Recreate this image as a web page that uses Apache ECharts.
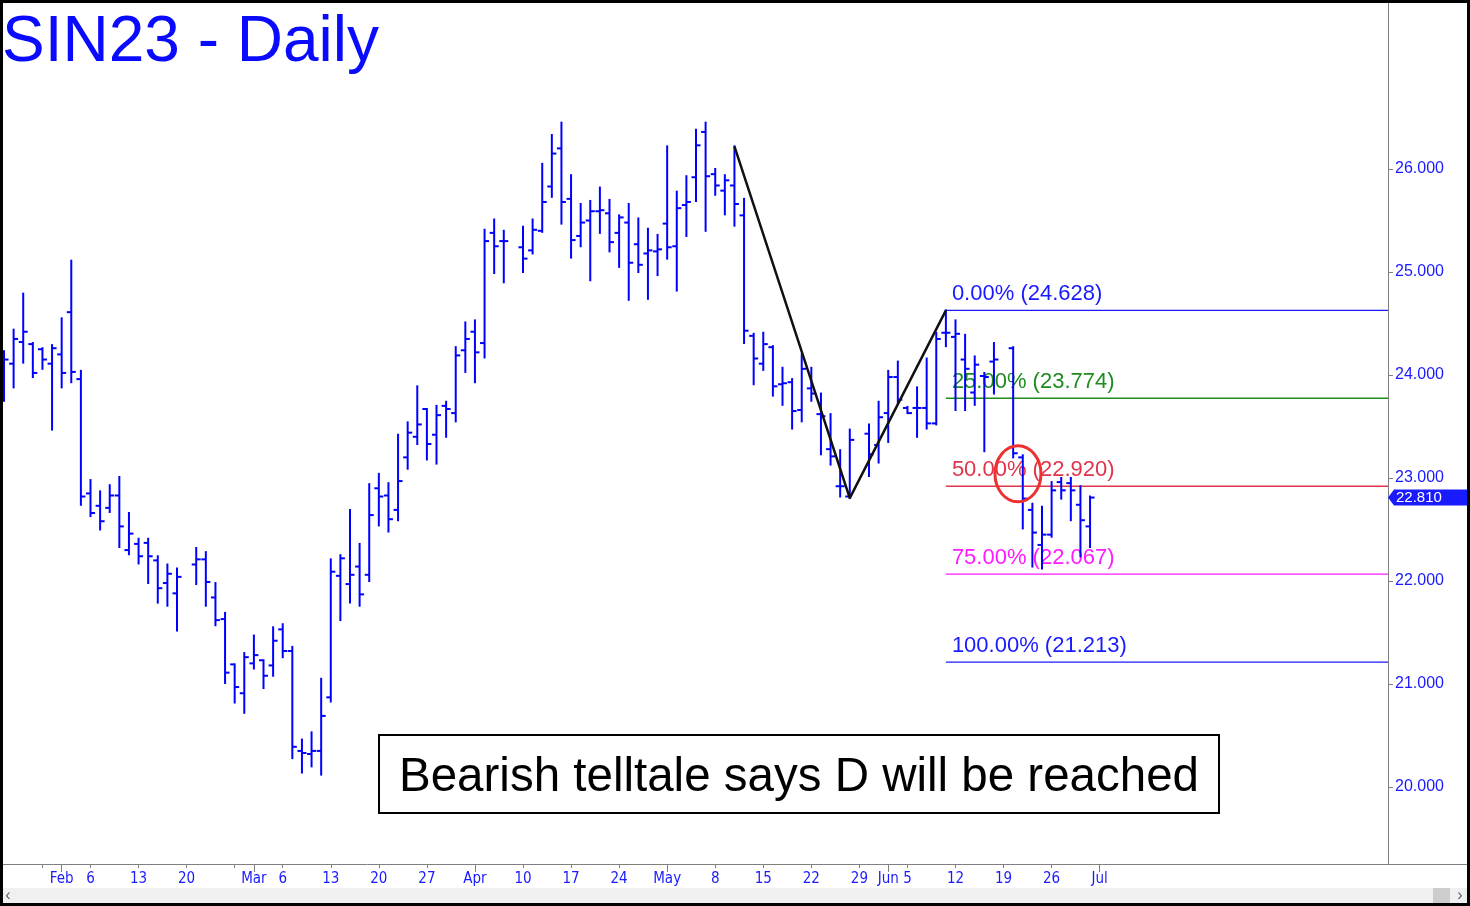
<!DOCTYPE html>
<html><head><meta charset="utf-8">
<script src="https://cdn.jsdelivr.net/npm/echarts@6/dist/echarts.min.js"></script>
<style>html,body{margin:0;padding:0;background:#fff}#c{width:1470px;height:906px}</style>
</head><body><div id="c"></div>
<script>
// ---------- DATA ----------
// weekday calendar (category axis) from 2023-01-24 to 2023-08-14
const dates = [];
(function () {
  let t = Date.UTC(2023, 0, 24);
  const end = Date.UTC(2023, 7, 14);
  while (t <= end) {
    const d = new Date(t), w = d.getUTCDay();
    if (w > 0 && w < 6) dates.push(d.toISOString().slice(0, 10));
    t += 86400000;
  }
})();

// daily OHLC, Jan 24 .. Jun 30 (null = exchange holiday)
const opens = [
  24.08,24.11,24.32,24.30, 24.25,24.11,24.20,24.61,23.96,
  22.85,22.73,22.71,22.83,22.30, 22.36,22.37,22.20,21.98,21.88,
  null,22.16,22.21,21.84,21.63, 21.19,20.91,21.20,21.23,21.18,
  21.53,21.32,20.35,20.32,20.35, 20.87,22.05,21.97,22.14,22.06,
  22.90,22.83,22.69,23.20,23.40, 23.67,23.42,23.70,23.63,24.24,
  24.42,24.31,25.38,25.30,null, 25.24,25.21,25.40,25.83,26.20,
  25.71,25.35,25.50,25.59,25.57, 25.38,25.48,25.27,25.18,25.20,
  25.47,25.25,25.65,25.92,26.36, 25.95,25.79,25.84,25.55,24.38,
  24.11,24.27,23.91,23.93,23.66, 23.87,23.62,23.28,22.92,22.82,
  null,23.43,23.32,23.63,23.98, 23.68,23.68,23.68,23.53,24.41,
  24.37,24.15,23.83,23.99,24.13, null,24.26,23.20,22.69,22.35,
  22.45,22.96,22.95,22.74,22.53
];
const highs = [
  24.23,24.44,24.79,24.31, 24.26,24.29,24.55,25.11,24.04,
  22.98,22.87,22.93,23.01,22.66, 22.41,22.41,22.24,22.16,22.12,
  null,22.32,22.28,21.98,21.69, 21.19,21.30,21.47,21.23,21.55,
  21.58,21.36,20.46,20.53,21.05, 22.21,22.25,22.69,22.36,22.94,
  23.04,22.95,23.42,23.54,23.89, 23.67,23.70,23.74,24.27,24.51,
  24.53,25.41,25.51,25.40,null, 25.44,25.51,26.05,26.33,26.45,
  25.94,25.66,25.69,25.82,25.70, 25.55,25.66,25.52,25.42,25.36,
  26.22,25.78,25.93,26.38,26.45, 26.00,25.94,26.22,25.71,24.40,
  24.41,24.28,24.07,23.96,24.20, 24.07,23.82,23.62,23.27,23.47,
  null,23.52,23.74,24.04,24.13, 23.69,23.88,24.16,24.41,24.628,
  24.53,24.39,24.18,24.02,24.31, null,24.27,23.22,22.75,22.72,
  22.96,23.00,23.00,22.92,22.82
];
const lows = [
  23.75,23.88,24.12,23.98, 24.06,23.47,23.88,23.93,22.74,
  22.63,22.50,22.67,22.33,22.26, 22.17,21.98,21.79,21.76,21.52,
  null,21.97,21.76,21.57,21.01, 20.82,20.72,21.15,20.96,21.08,
  21.26,20.28,20.14,20.20,20.12, 20.83,21.62,21.79,21.76,22.00,
  22.54,22.48,22.59,23.09,23.33, 23.18,23.14,23.40,23.55,24.03,
  23.93,24.17,24.99,24.90,null, 25.00,25.18,25.39,25.73,25.47,
  25.14,25.25,24.92,25.38,25.20, 25.05,24.73,25.00,24.74,24.97,
  25.13,24.82,25.35,25.69,25.40, 25.75,25.56,25.45,24.31,23.91,
  24.05,23.80,23.71,23.48,23.55, 23.75,23.23,23.13,22.82,22.805,
  null,23.02,23.15,23.35,23.73, 23.63,23.40,23.48,23.52,24.28,
  23.66,23.66,23.71,23.26,23.82, null,23.20,22.51,22.14,22.12,
  22.43,22.80,22.59,22.24,22.33
];
const closes = [
  24.15,24.35,24.42,24.02, 24.15,24.26,24.02,24.03,22.82,
  22.66,22.58,22.83,22.53,22.46, 22.24,22.24,21.93,22.07,22.04,
  null,22.21,21.99,21.62,21.11, 20.97,21.26,21.28,21.08,21.42,
  21.32,20.39,20.33,20.35,20.69, 22.09,22.22,22.06,21.87,22.64,
  22.82,22.60,22.97,23.44,23.52, 23.33,23.61,23.67,24.19,24.35,
  24.22,25.30,25.25,25.30,null, 25.13,25.41,25.68,26.15,25.68,
  25.31,25.48,25.59,25.60,25.29, 25.53,25.09,25.07,25.21,25.22,
  25.24,25.62,25.68,26.23,25.93, 25.84,25.89,25.66,24.43,24.16,
  24.30,23.89,23.92,23.65,24.06, 23.82,23.60,23.21,22.92,23.37,
  null,23.23,23.59,23.98,23.76, 23.63,23.68,23.53,24.35,24.41,
  24.40,24.06,24.10,23.98,24.15, null,23.24,22.80,22.47,22.45,
  22.88,22.88,22.88,22.59,22.81
];

// x-axis tick labels
const xLabelDates = ['2023-02-01','2023-02-06','2023-02-13','2023-02-20','2023-03-01','2023-03-06',
  '2023-03-13','2023-03-20','2023-03-27','2023-04-03','2023-04-10','2023-04-17','2023-04-24',
  '2023-05-01','2023-05-08','2023-05-15','2023-05-22','2023-05-29','2023-06-01','2023-06-05',
  '2023-06-12','2023-06-19','2023-06-26','2023-07-03'];
const xLabelTexts = ['Feb','6','13','20','Mar','6','13','20','27','Apr','10','17','24',
  'May','8','15','22','29','Jun','5','12','19','26','Jul'];
const monthTickDates = ['2023-02-01','2023-03-01','2023-04-03','2023-05-01','2023-06-01','2023-07-03'];
const lastTickDate = '2023-07-03';

// y-axis labels
const yLabels = [20, 21, 22, 23, 24, 25, 26];

// ABC pattern and Fibonacci targets
const abcDates = ['2023-05-10', '2023-05-26', '2023-06-09'];
const abcPrices = [26.22, 22.805, 24.628];
const fibStartDate = '2023-06-09';
const fibPcts = ['0.00%', '25.00%', '50.00%', '75.00%', '100.00%'];
const fibLevels = [24.628, 23.774, 22.920, 22.067, 21.213];

// annotations
const circleDates = ['2023-06-20', '2023-06-21'];
const circlePrice = 23.04;
const lastPrice = 22.810;
const titleText = 'SIN23 - Daily';
const noteText = 'Bearish telltale says D will be reached';

// ---------- STYLE ----------
const FONT = "'Liberation Sans', Arial, sans-serif";
const NARROW = "'Liberation Sans Narrow', 'Arial Narrow', 'DejaVu Sans Condensed', sans-serif";
const BLUE = '#0000ff';
const LABEL_BLUE = '#1a1aff';
const fibColors = ['#1a1aff', '#1e8c1e', '#e0344a', '#ff1aff', '#1a1aff'];

// ---------- BUILD ----------
const idxOf = {}; dates.forEach((d, i) => idxOf[d] = i);
const labelMap = {}; xLabelDates.forEach((d, i) => labelMap[d] = xLabelTexts[i]);
const monthSet = new Set(monthTickDates);
const lastTickIdx = idxOf[lastTickDate];

const ohlc = [];
for (let i = 0; i < opens.length; i++) {
  if (opens[i] == null) continue;
  ohlc.push([i, opens[i], highs[i], lows[i], closes[i]]);
}

function renderBar(params, api) {
  const i = api.value(0);
  const pO = api.coord([i, api.value(1)]);
  const pH = api.coord([i, api.value(2)]);
  const pL = api.coord([i, api.value(3)]);
  const pC = api.coord([i, api.value(4)]);
  const x = pH[0];
  const st = { stroke: BLUE, lineWidth: 2 };
  return { type: 'group', children: [
    { type: 'line', shape: { x1: x, y1: pH[1] - 1, x2: x, y2: pL[1] + 1 }, style: st },
    { type: 'line', shape: { x1: x - 4.5, y1: pO[1], x2: x, y2: pO[1] }, style: st },
    { type: 'line', shape: { x1: x, y1: pC[1], x2: x + 4.5, y2: pC[1] }, style: st }
  ]};
}

function renderFib(params, api) {
  const idx = api.value(0), lvl = api.value(1), k = api.value(2);
  const p = api.coord([idx, lvl]);
  const xr = params.coordSys.x + params.coordSys.width;
  return { type: 'group', children: [
    { type: 'line', shape: { x1: p[0], y1: p[1], x2: xr, y2: p[1] }, style: { stroke: fibColors[k], lineWidth: 1.3 } },
    { type: 'text', x: p[0] + 6, y: p[1] - 16, style: {
      text: fibPcts[k] + ' (' + lvl.toFixed(3) + ')', fill: fibColors[k], fontSize: 22, fontFamily: FONT,
      align: 'left', verticalAlign: 'middle', textAlign: 'left', textVerticalAlign: 'middle' } }
  ]};
}

function renderCircle(params, api) {
  const p1 = api.coord([api.value(0), api.value(2)]);
  const p2 = api.coord([api.value(1), api.value(2)]);
  return { type: 'ellipse', shape: { cx: (p1[0] + p2[0]) / 2, cy: p1[1], rx: 23, ry: 28 },
    style: { fill: 'none', stroke: '#ee3030', lineWidth: 3 } };
}

function renderLast(params, api) {
  const p = api.coord([api.value(0), api.value(1)]);
  const gx = params.coordSys.x + params.coordSys.width;
  const y = p[1];
  return { type: 'group', children: [
    { type: 'polygon', shape: { points: [[gx, y], [gx + 6, y - 8], [gx + 79, y - 8], [gx + 79, y + 8], [gx + 6, y + 8]] },
      style: { fill: '#1a1aff' } },
    { type: 'text', x: gx + 8, y: y + 0.5, style: { text: api.value(1).toFixed(3), fill: '#fff', fontSize: 15, fontFamily: FONT,
      align: 'left', verticalAlign: 'middle', textAlign: 'left', textVerticalAlign: 'middle' } }
  ]};
}

const chart = echarts.init(document.getElementById('c'), null, { renderer: 'canvas' });
chart.setOption({
  animation: false,
  backgroundColor: '#ffffff',
  grid: { left: 4, top: 0, width: 1384, height: 864, containLabel: false },
  xAxis: [
    { type: 'category', data: dates, boundaryGap: false, position: 'bottom',
      axisLine: { show: false },
      axisTick: { show: true, length: 4, lineStyle: { color: '#808080' },
        interval: (i, v) => new Date(v + 'T00:00:00Z').getUTCDay() === 1 && i <= lastTickIdx },
      axisLabel: { show: true, interval: (i, v) => labelMap[v] !== undefined, formatter: v => labelMap[v] || '',
        color: LABEL_BLUE, fontSize: 15, fontFamily: NARROW, margin: 8 },
      splitLine: { show: false } },
    { type: 'category', data: dates, boundaryGap: false, position: 'bottom', gridIndex: 0,
      axisLine: { show: false },
      axisTick: { show: true, length: 8, lineStyle: { color: '#808080' }, interval: (i, v) => monthSet.has(v) },
      axisLabel: { show: false }, splitLine: { show: false } }
  ],
  yAxis: {
    type: 'value', position: 'right', min: 19.252, max: 27.641,
    axisLine: { show: true, lineStyle: { color: '#808080', width: 1 } },
    axisTick: { show: true, length: 5, lineStyle: { color: '#808080' }, customValues: yLabels },
    axisLabel: { show: true, customValues: yLabels, formatter: v => v.toFixed(3), color: LABEL_BLUE,
      fontSize: 16, fontFamily: FONT, margin: 7 },
    splitLine: { show: false }
  },
  series: [
    { type: 'custom', name: 'fib', data: fibLevels.map((v, k) => [idxOf[fibStartDate], v, k]),
      encode: { x: 0, y: 1 }, renderItem: renderFib, z: 2, silent: true },
    { type: 'custom', name: 'ohlc', data: ohlc, encode: { x: 0, y: [1, 2, 3, 4] }, renderItem: renderBar, z: 3 },
    { type: 'line', name: 'abc', data: abcDates.map((d, i) => [d, abcPrices[i]]), symbol: 'none',
      lineStyle: { color: '#111111', width: 2.5 }, z: 4, silent: true },
    { type: 'custom', name: 'circle', data: [[idxOf[circleDates[0]], idxOf[circleDates[1]], circlePrice]],
      encode: { x: 0, y: 2 }, renderItem: renderCircle, z: 5, silent: true },
    { type: 'custom', name: 'last', data: [[opens.length - 1, lastPrice]], encode: { x: 0, y: 1 },
      renderItem: renderLast, z: 6, silent: true, clip: false }
  ],
  graphic: [
    { type: 'line', shape: { x1: 0, y1: 864.5, x2: 1470, y2: 864.5 }, style: { stroke: '#808080', lineWidth: 1 }, z: 1 },
    { type: 'rect', shape: { x: 0, y: 888, width: 1470, height: 16 }, style: { fill: '#f0f0f0' }, z: 1 },
    { type: 'rect', shape: { x: 1433, y: 888, width: 17, height: 16 }, style: { fill: '#cdcdcd' }, z: 2 },
    { type: 'text', x: 8, y: 896, style: { text: '‹', fill: '#606060', fontSize: 16, fontFamily: FONT,
      align: 'center', verticalAlign: 'middle', textAlign: 'center', textVerticalAlign: 'middle' }, z: 3 },
    { type: 'text', x: 1460, y: 896, style: { text: '›', fill: '#606060', fontSize: 16, fontFamily: FONT,
      align: 'center', verticalAlign: 'middle', textAlign: 'center', textVerticalAlign: 'middle' }, z: 3 },
    { type: 'text', x: 2, y: 43, style: { text: titleText, fill: '#0a0aff', fontSize: 64, fontFamily: FONT,
      align: 'left', verticalAlign: 'middle', textAlign: 'left', textVerticalAlign: 'middle' }, z: 10 },
    { type: 'rect', shape: { x: 379, y: 735, width: 840, height: 78 }, style: { fill: '#ffffff', stroke: '#000000', lineWidth: 2 }, z: 10 },
    { type: 'text', x: 799, y: 778, style: { text: noteText, fill: '#000000', fontSize: 47.5, fontFamily: FONT,
      align: 'center', verticalAlign: 'middle', textAlign: 'center', textVerticalAlign: 'middle' }, z: 11 },
    { type: 'rect', shape: { x: 1.5, y: 1.5, width: 1467, height: 903 }, style: { fill: 'none', stroke: '#000000', lineWidth: 3 }, z: 20 }
  ]
});
</script>
</body></html>
